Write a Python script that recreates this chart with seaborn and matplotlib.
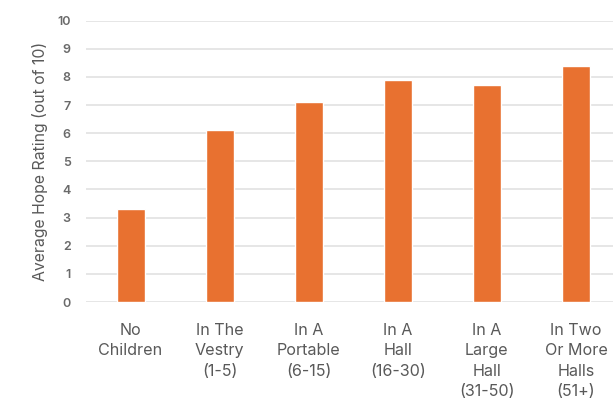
import matplotlib
matplotlib.use("Agg")
import matplotlib.pyplot as plt
import seaborn as sns
import pandas as pd

categories = [
    "No\nChildren",
    "In The\nVestry\n(1-5)",
    "In A\nPortable\n(6-15)",
    "In A\nHall\n(16-30)",
    "In A\nLarge\nHall\n(31-50)",
    "In Two\nOr More\nHalls\n(51+)",
]
ratings = [3.3, 6.1, 7.1, 7.9, 7.7, 8.4]
y_ticks = list(range(0, 11))

df = pd.DataFrame({"group": categories, "rating": ratings})

sns.set_theme(style="white")
plt.rcParams["font.family"] = ["Inter", "DejaVu Sans"]

fig = plt.figure(figsize=(6.13, 4.05), dpi=100)
ax = fig.add_axes([0.1403, 0.2543, 0.8597, 0.6946])

sns.barplot(data=df, x="group", y="rating", color="#E87130", saturation=1,
            width=0.315, ax=ax, zorder=3)

ax.set_ylim(0, 10)
ax.set_xlim(-0.5, 5.415)
ax.set_yticks(y_ticks)
ax.yaxis.grid(True, color="#e2e2e2", linewidth=1.2, zorder=0)
ax.set_axisbelow(True)
for s in ax.spines.values():
    s.set_visible(False)

ax.set_xlabel("")
ax.set_ylabel("Average Hope Rating (out of 10)", fontsize=11.4, color="#595959", labelpad=7)
ax.tick_params(axis="x", length=0, pad=15, labelsize=11.6, labelcolor="#595959")
ax.tick_params(axis="y", length=0, pad=11, labelsize=9, labelcolor="#6a6a6a")
for lbl in ax.get_xticklabels():
    lbl.set_linespacing(1.45)
for lbl in ax.get_yticklabels():
    lbl.set_fontweight("semibold")

fig.savefig("out.png", dpi=100)
